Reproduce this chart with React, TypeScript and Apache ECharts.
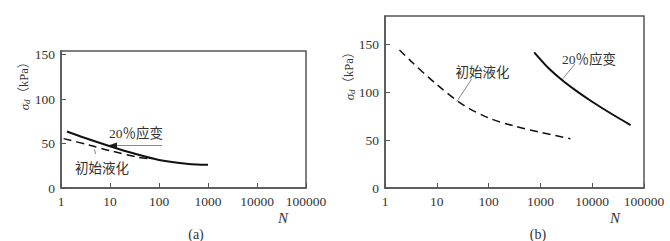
import React, { useEffect, useRef } from "react";
import * as echarts from "echarts";

const xTicks = [1, 10, 100, 1000, 10000, 100000];
const yTicks = [0, 50, 100, 150];

// (a)
const aStrainN = [1.32, 3, 10, 30, 100, 400, 1000];
const aStrainS = [63.5, 56.5, 47, 39, 31.5, 27, 26];
const aLiqN = [1.13, 3.6, 10, 38, 60];
const aLiqS = [55.5, 48.5, 42, 34.5, 33];
// (b)
const bLiqN = [1.9, 3.16, 10, 31.6, 100, 316, 1000, 3800];
const bLiqS = [144.5, 132.8, 108.3, 87.3, 73.3, 64.8, 58.3, 51.6];
const bStrainN = [760, 1413, 2570, 5012, 10000, 23440, 55000];
const bStrainS = [142, 125.8, 113.3, 101.4, 90.3, 77.7, 65.9];

const labelStrain = "20％应变";
const labelLiq = "初始液化";

const FONT = "'Liberation Serif', 'Noto Sans CJK SC', serif";
const TXT = "#333";
const AX = "#555";

const pairs = (xs: number[], ys: number[]) => xs.map((x, i) => [x, ys[i]]);

function xAxisCfg(gi: number) {
  return {
    type: "log",
    logBase: 10,
    gridIndex: gi,
    min: 1,
    max: 100000,
    axisLine: { show: true, lineStyle: { color: AX, width: 1.5 } },
    axisTick: { show: true, inside: true, length: 5, lineStyle: { color: AX } },
    splitLine: { show: false },
    minorTick: { show: false },
    axisLabel: {
      margin: 7,
      color: TXT,
      fontFamily: FONT,
      fontSize: 13.5,
      formatter: (v: number) => {
        const t = xTicks.find((k) => Math.abs(Math.log10(k) - Math.log10(v)) < 1e-6);
        return t === undefined ? "" : String(t);
      },
    },
  };
}

function yAxisCfg(gi: number, max: number) {
  return {
    type: "value",
    gridIndex: gi,
    min: 0,
    max,
    interval: 50,
    axisLine: { show: true, lineStyle: { color: AX, width: 1.5 } },
    axisTick: { show: true, inside: true, length: 5, lineStyle: { color: AX } },
    splitLine: { show: false },
    axisLabel: {
      margin: 6,
      color: TXT,
      fontFamily: FONT,
      fontSize: 13.5,
      showMaxLabel: false,
      formatter: (v: number) => (yTicks.includes(v) ? String(v) : ""),
    },
  };
}

function lineSeries(gi: number, data: number[][], dashed: boolean) {
  return {
    type: "line",
    xAxisIndex: gi,
    yAxisIndex: gi,
    data,
    smooth: 0.3,
    symbol: "none",
    lineStyle: {
      color: "#111",
      width: dashed ? 1.5 : 2,
      type: dashed ? [8, 5] : "solid",
    },
  };
}

const txt = (x: number, y: number, text: string, extra: any = {}) => ({
  type: "text",
  x,
  y,
  style: {
    text,
    align: "center",
    verticalAlign: "middle",
    fill: TXT,
    font: `13.5px ${FONT}`,
    ...extra,
  },
});

const gline = (x1: number, y1: number, x2: number, y2: number) => ({
  type: "line",
  shape: { x1, y1, x2, y2 },
  style: { stroke: "#888", lineWidth: 1 },
});

const yName = (x: number, y: number) => ({
  type: "text",
  x,
  y,
  rotation: Math.PI / 2,
  style: {
    text: "{s|σ}{d|d}{p|（kPa）}",
    align: "center",
    verticalAlign: "middle",
    rich: {
      s: { fontFamily: FONT, fontStyle: "italic", fontSize: 13, fill: TXT },
      d: { fontFamily: FONT, fontStyle: "italic", fontSize: 9, fill: TXT, padding: [5, 0, 0, 0] },
      p: { fontFamily: FONT, fontSize: 12.5, fill: TXT },
    },
  },
});

export default function App() {
  const ref = useRef<HTMLDivElement>(null);
  useEffect(() => {
    if (!ref.current) return;
    const chart = echarts.init(ref.current, null, { renderer: "svg" });
    chart.setOption({
      animation: false,
      grid: [
        { left: 61, top: 51, width: 245, height: 137, show: true, borderColor: AX, borderWidth: 1.5 },
        { left: 385, top: 16, width: 259, height: 172, show: true, borderColor: AX, borderWidth: 1.5 },
      ],
      xAxis: [xAxisCfg(0), xAxisCfg(1)],
      yAxis: [yAxisCfg(0, 154), yAxisCfg(1, 180)],
      series: [
        lineSeries(0, pairs(aStrainN, aStrainS), false),
        lineSeries(0, pairs(aLiqN, aLiqS), true),
        lineSeries(1, pairs(bLiqN, bLiqS), true),
        lineSeries(1, pairs(bStrainN, bStrainS), false),
      ],
      graphic: [
        yName(24, 83),
        yName(349, 73),
        txt(283, 218, "N", { font: `italic 15px ${FONT}` }),
        txt(615, 218, "N", { font: `italic 15px ${FONT}` }),
        txt(196, 234, "(a)", { font: `14px ${FONT}` }),
        txt(538, 234, "(b)", { font: `14px ${FONT}` }),
        // (a) annotations
        txt(136, 133, labelStrain),
        gline(112, 145.5, 162, 145.5),
        {
          type: "polygon",
          shape: { points: [[108, 145.5], [117, 142.5], [117, 148.5]] },
          style: { fill: "#222" },
        },
        txt(102, 168, labelLiq),
        gline(94.3, 149.3, 95.7, 154),
        // (b) annotations
        txt(589, 59, labelStrain),
        gline(575, 64, 561.7, 80),
        txt(482.5, 72, labelLiq),
        gline(471.7, 79, 456.7, 101.7),
      ],
    });
    return () => chart.dispose();
  }, []);
  return (
    <div
      ref={ref}
      style={{ position: "absolute", left: 0, top: 0, width: 670, height: 241, background: "#fff" }}
    />
  );
}
